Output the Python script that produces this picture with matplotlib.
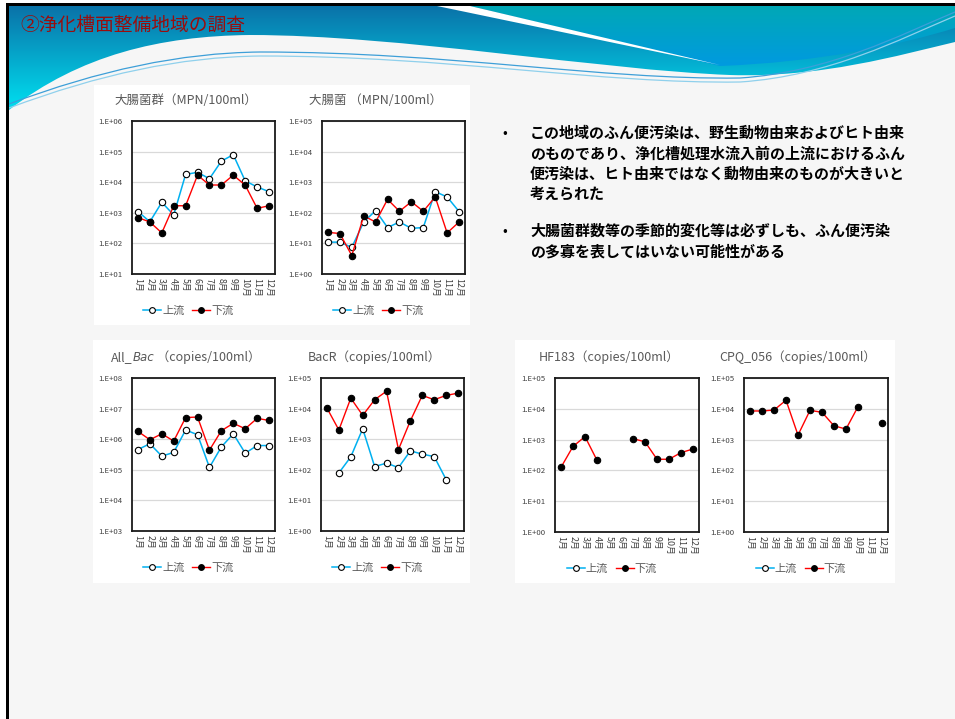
import numpy as np
import matplotlib
matplotlib.use('Agg')
import matplotlib.pyplot as plt
from matplotlib.path import Path
from matplotlib.patches import PathPatch, Rectangle
from matplotlib.colors import LinearSegmentedColormap
from matplotlib.ticker import FixedLocator, FuncFormatter, NullLocator
from matplotlib.offsetbox import TextArea, HPacker, AnnotationBbox

plt.rcParams['font.family'] = ['Noto Sans CJK JP', 'DejaVu Sans']

nan = np.nan

# 月ラベル
months = ['1月', '2月', '3月', '4月', '5月', '6月', '7月', '8月', '9月', '10月', '11月', '12月']
legend_labels = ['上流', '下流']

# 大腸菌群 (MPN/100ml)
coli_group_up = [1100, 510, 2200, 850, 18000, 21000, 13000, 49000, 79000, 11000, 7000, 4900]
coli_group_down = [700, 500, 220, 1700, 1700, 17000, 8100, 8100, 17000, 8000, 1400, 1700]

# 大腸菌 (MPN/100ml)
ecoli_up = [11, 11, 7.4, 50, 118, 33, 50, 31, 33, 490, 330, 110]
ecoli_down = [23, 21, 4, 79, 50, 275, 112, 230, 112, 330, 22, 50]

# All_Bac (copies/100ml)
allbac_up = [4.6e5, 7.1e5, 2.8e5, 3.7e5, 2.0e6, 1.4e6, 1.2e5, 5.6e5, 1.5e6, 3.5e5, 6.2e5, 6.2e5]
allbac_down = [1.8e6, 9.6e5, 1.5e6, 8.7e5, 5.1e6, 5.3e6, 4.4e5, 1.9e6, 3.3e6, 2.2e6, 4.8e6, 4.1e6]

# BacR (copies/100ml)
bacr_up = [nan, 79, 265, 2200, 128, 165, 118, 415, 325, 270, 48, nan]
bacr_down = [10400, 2000, 22000, 6000, 19500, 37000, 460, 4000, 27000, 19500, 27000, 32000]

# HF183 (copies/100ml)
hf183_up = [nan] * 12
hf183_down = [126, 600, 1250, 213, nan, nan, 1070, 850, 230, 230, 378, 495]

# CPQ_056 (copies/100ml)
cpq_up = [nan] * 12
cpq_down = [8500, 8500, 9100, 19000, 1400, 8900, 7700, 2800, 2200, 11700, nan, 3500]

bullet1 = ['この地域のふん便汚染は、野生動物由来およびヒト由来',
           'のものであり、浄化槽処理水流入前の上流におけるふん',
           '便汚染は、ヒト由来ではなく動物由来のものが大きいと',
           '考えられた']
bullet2 = ['大腸菌群数等の季節的変化等は必ずしも、ふん便汚染',
           'の多寡を表してはいない可能性がある']

W, H = 955, 719
fig = plt.figure(figsize=(W / 100, H / 100), dpi=100)

# 背景 (ピクセル座標)
bg = fig.add_axes([0, 0, 1, 1], zorder=0)
bg.set_xlim(0, W)
bg.set_ylim(H, 0)
bg.axis('off')
bg.add_patch(Rectangle((0, 0), W, H, fc='white', ec='none'))
bg.add_patch(Rectangle((9, 6), W - 9, H - 6, fc='#f6f6f6', ec='none'))


def grad_fill(verts, codes, c_top, c_bot, y0, y1):
    patch = PathPatch(Path(verts, codes), fc='none', ec='none')
    bg.add_patch(patch)
    cm = LinearSegmentedColormap.from_list('g', [c_top, c_bot])
    g = np.linspace(0, 1, 256).reshape(-1, 1)
    im = bg.imshow(g, cmap=cm, extent=(0, W, y1, y0), origin='upper', aspect='auto', zorder=1)
    im.set_clip_path(patch)


M, L, C = Path.MOVETO, Path.LINETO, Path.CURVE4

# ヘッダーの波
grad_fill([(9, 6), (955, 6), (955, 42), (900, 55), (820, 78), (730, 75),
           (600, 70), (400, 35), (250, 35), (160, 36), (80, 55), (9, 110), (9, 6)],
          [M, L, L, C, C, C, C, C, C, C, C, C, L], '#0a72a8', '#00e2f2', 6, 112)
grad_fill([(470, 6), (955, 6), (955, 28), (900, 45), (820, 62), (720, 66), (470, 6)],
          [M, L, L, C, C, C, L], '#00a8b6', '#009ae0', 6, 66)
bg.add_patch(PathPatch(Path([(437, 6), (470, 6), (720, 65), (437, 6)], [M, L, L, L]),
                       fc='white', ec='none', zorder=2))
for dy, col in [(0, '#3d9fd8'), (4, '#8fd0ec')]:
    bg.add_patch(PathPatch(Path([(9, 104 + dy), (100, 70 + dy), (180, 53 + dy), (260, 52 + dy),
                                 (450, 52 + dy), (600, 80 + dy), (740, 78 + dy),
                                 (830, 72 + dy), (900, 35 + dy), (955, 12 + dy)],
                                [M, C, C, C, C, C, C, C, C, C]),
                           fc='none', ec=col, lw=0.9, zorder=3))

# 枠線
bg.add_patch(Rectangle((6, 3), W - 6, 3, fc='black', ec='none', zorder=4))
bg.add_patch(Rectangle((6, 3), 3, H - 3, fc='black', ec='none', zorder=4))

bg.text(20, 25, '②浄化槽面整備地域の調査', fontsize=13.5, color='#9a0d0d', va='center', zorder=5)

# グラフ背景
for x0, y0, x1, y1 in [(94, 85, 470, 325), (93, 340, 470, 583), (515, 340, 895, 583)]:
    bg.add_patch(Rectangle((x0, y0), x1 - x0, y1 - y0, fc='white', ec='none', zorder=2))

# 箇条書き
for y, lines in [(133, bullet1), (231, bullet2)]:
    bg.text(505, y, '•', fontsize=10, va='center', ha='center', zorder=5)
    for i, s in enumerate(lines):
        bg.text(530, y + i * 20.3, s, fontsize=10.8, fontweight='bold', va='center', zorder=5)


def log_label(v, pos):
    return '1.E+%02d' % int(round(np.log10(v)))


def draw_chart(box, up, down, ylim, title):
    x0, y0, x1, y1 = box
    ax = fig.add_axes([x0 / W, 1 - y1 / H, (x1 - x0) / W, (y1 - y0) / H], zorder=5)
    x = np.arange(1, 13)
    ax.plot(x, up, '-o', color='#00b0f0', lw=1.1, ms=4.6, mfc='white', mec='black', mew=0.8,
            label=legend_labels[0])
    ax.plot(x, down, '-o', color='#ff0000', lw=1.0, ms=4.6, mfc='black', mec='black', mew=0.8,
            label=legend_labels[1])
    ax.set_yscale('log')
    ax.set_ylim(*ylim)
    ax.set_xlim(0.5, 12.5)
    decades = np.arange(np.log10(ylim[0]), np.log10(ylim[1]) + 1)
    ax.yaxis.set_major_locator(FixedLocator(10.0 ** decades))
    ax.yaxis.set_minor_locator(NullLocator())
    ax.yaxis.set_major_formatter(FuncFormatter(log_label))
    ax.set_xticks(x)
    ax.set_xticklabels(months, rotation=270)
    ax.tick_params(length=0, labelcolor='#404040')
    ax.tick_params(axis='y', pad=7, labelsize=5.6)
    ax.tick_params(axis='x', pad=3, labelsize=6.4)
    ax.yaxis.grid(True, color='#d9d9d9', lw=0.9)
    ax.set_axisbelow(True)
    for sp in ax.spines.values():
        sp.set_linewidth(1.3)
        sp.set_color('#1a1a1a')
    cx = ((x0 + x1) / 2 - 15 - x0) / (x1 - x0)
    ax.legend(loc='center', bbox_to_anchor=(cx, -37 / (y1 - y0)), ncol=2, frameon=False,
              fontsize=8, handlelength=1.6, handletextpad=0.1, columnspacing=0.7,
              labelcolor='#595959', markerscale=0.9)
    tx = (x0 + x1) / 2 - 18
    ty = y0 - 21
    if isinstance(title, str):
        bg.text(tx, ty, title, fontsize=9, color='#595959', ha='center', va='center', zorder=5)
    else:
        parts = []
        for s, it in title:
            props = dict(fontsize=9, color='#595959')
            if it:
                props.update(family=['DejaVu Sans'], style='italic', fontsize=8.5)
            parts.append(TextArea(s, textprops=props))
        pack = HPacker(children=parts, pad=0, sep=0, align='baseline')
        bg.add_artist(AnnotationBbox(pack, (tx, ty), frameon=False, box_alignment=(0.5, 0.5),
                                     xycoords='data', zorder=5))
    return ax


draw_chart((132, 121, 275, 274), coli_group_up, coli_group_down, (1e1, 1e6), '大腸菌群（MPN/100ml）')
draw_chart((322, 121, 465, 274), ecoli_up, ecoli_down, (1e0, 1e5), '大腸菌 （MPN/100ml）')
draw_chart((132, 378, 275, 531), allbac_up, allbac_down, (1e3, 1e8),
           [('All_', False), ('Bac', True), (' （copies/100ml）', False)])
draw_chart((321, 378, 464, 531), bacr_up, bacr_down, (1e0, 1e5), 'BacR（copies/100ml）')
draw_chart((555, 378, 699, 532), hf183_up, hf183_down, (1e0, 1e5), 'HF183（copies/100ml）')
draw_chart((744, 378, 888, 532), cpq_up, cpq_down, (1e0, 1e5), 'CPQ_056（copies/100ml）')

fig.savefig('out.png', dpi=100)
